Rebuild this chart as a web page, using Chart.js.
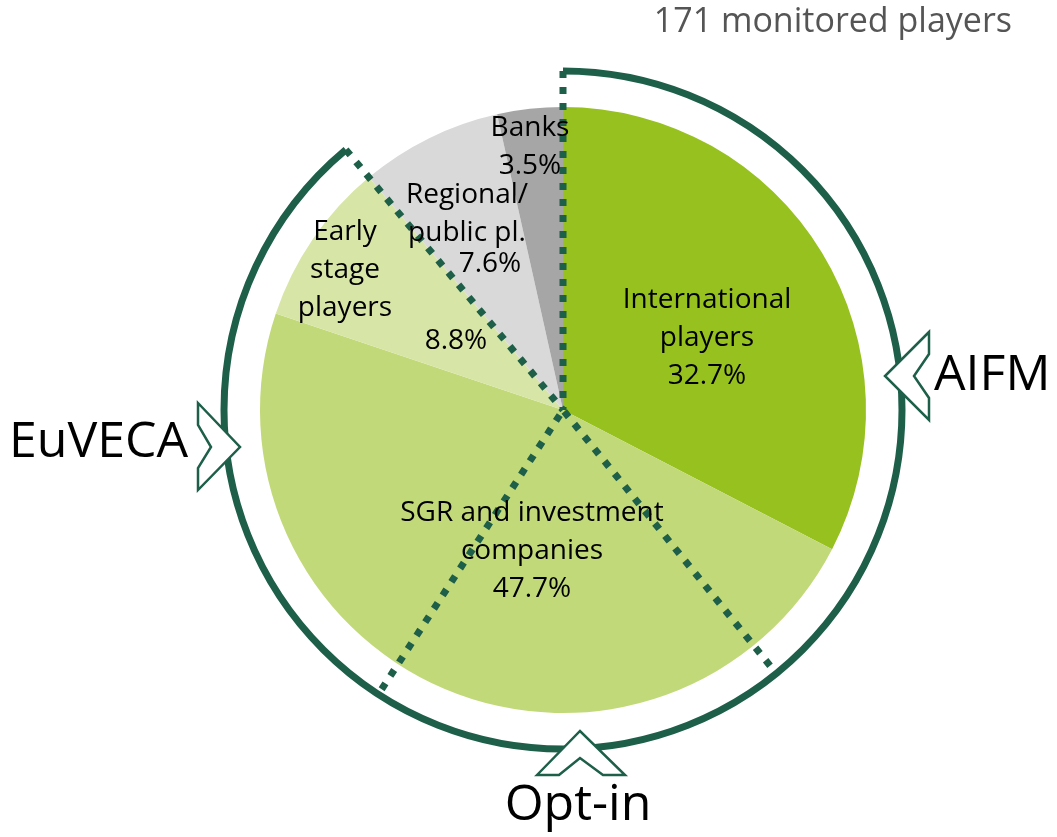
<!DOCTYPE html>
<html>
<head>
  <title>Monitored players</title>
  <script src="https://cdn.jsdelivr.net/npm/chart.js"></script>
  <style>
    body {
      margin: 0;
      background: #fff;
    }
    #wrap {
      width: 1057px;
      height: 837px;
    }
  </style>
</head>
<body>
  <div id="wrap">
    <canvas id="pieChart" width="1057" height="837"></canvas>
  </div>

  <script>
    // dati
    const categories = ['International players', 'SGR and investment companies', 'Early stage players', 'Regional/public pl.', 'Banks'];
    const shares = [32.7, 47.7, 8.8, 7.6, 3.5];
    const shareLabels = ['32.7%', '47.7%', '8.8%', '7.6%', '3.5%'];
    const sliceColors = ['#97c11f', '#c2d97a', '#d7e6a7', '#d9d9d9', '#a6a6a6'];

    const DARK_GREEN = '#1d5f48';
    const FONT = '"Open Sans", "Noto Sans", sans-serif';
    // angoli (gradi, in senso orario dall'alto) delle linee tratteggiate extra
    const optInAngles = [141, 213];

    // testo di ogni fetta: righe e posizione relativa al centro
    const sliceText = [
      { lines: ['International', 'players', shareLabels[0]], dx: 144, dy: -110 },
      { lines: ['SGR and investment', 'companies', shareLabels[1]], dx: -31, dy: 103 },
      { lines: ['Early', 'stage', 'players'], dx: -218, dy: -178 },
      { lines: [shareLabels[2]], dx: -107, dy: -69 },
      { lines: ['Regional/', 'public pl.'], dx: -96, dy: -215 },
      { lines: [shareLabels[3]], dx: -73, dy: -146 },
      { lines: ['Banks', shareLabels[4]], dx: -33, dy: -282 }
    ];

    function chevron(ctx, pts) {
      ctx.beginPath();
      pts.forEach((p, i) => i ? ctx.lineTo(p[0], p[1]) : ctx.moveTo(p[0], p[1]));
      ctx.closePath();
      ctx.fillStyle = '#fff';
      ctx.fill();
      ctx.lineWidth = 2.5;
      ctx.strokeStyle = DARK_GREEN;
      ctx.stroke();
    }

    const overlay = {
      id: 'overlay',
      afterDraw(chart) {
        const ctx = chart.ctx;
        const meta = chart.getDatasetMeta(0);
        const arc = meta.data[0];
        const cx = arc.x, cy = arc.y, r = arc.outerRadius;
        const ringR = r + 36;
        const toRad = deg => (deg - 90) * Math.PI / 180;

        // bordo tra early stage e regional
        const splitAngle = meta.data[2].endAngle;

        ctx.save();
        // anello esterno
        ctx.beginPath();
        ctx.arc(cx, cy, ringR, -Math.PI / 2, splitAngle);
        ctx.lineWidth = 7;
        ctx.strokeStyle = DARK_GREEN;
        ctx.stroke();

        // linee tratteggiate
        ctx.setLineDash([7, 9]);
        ctx.lineWidth = 7;
        const dashed = [-Math.PI / 2, splitAngle, toRad(optInAngles[0]), toRad(optInAngles[1])];
        const lens = [ringR, ringR, r + 26, r + 30];
        dashed.forEach((a, i) => {
          ctx.beginPath();
          ctx.moveTo(cx + lens[i] * Math.cos(a), cy + lens[i] * Math.sin(a));
          ctx.lineTo(cx, cy);
          ctx.stroke();
        });
        ctx.setLineDash([]);

        // frecce
        chevron(ctx, [[929, 332], [885, 376], [929, 420], [929, 398], [914, 376], [929, 354]]);
        chevron(ctx, [[198, 403], [240, 447], [198, 490], [198, 468], [211, 447], [198, 425]]);
        chevron(ctx, [[537, 775], [580, 731], [625, 775], [603, 775], [580, 758], [559, 775]]);

        // testi
        ctx.fillStyle = '#000';
        ctx.textAlign = 'center';
        ctx.textBaseline = 'middle';
        ctx.font = '28px ' + FONT;
        sliceText.forEach(t => {
          t.lines.forEach((line, i) => {
            ctx.fillText(line, cx + t.dx, cy + t.dy + i * 38);
          });
        });

        ctx.font = '50px ' + FONT;
        ctx.textAlign = 'left';
        ctx.fillText('AIFM', 934, 376);
        ctx.fillText('EuVECA', 9, 443);
        ctx.textAlign = 'center';
        ctx.fillText('Opt-in', 578, 806);

        ctx.fillStyle = '#555';
        ctx.font = '34px ' + FONT;
        ctx.textAlign = 'right';
        ctx.fillText('171 monitored players', 1012, 22);
        ctx.restore();
      }
    };

    new Chart(document.getElementById('pieChart'), {
      type: 'pie',
      data: {
        labels: categories,
        datasets: [{
          data: shares,
          backgroundColor: sliceColors,
          borderWidth: 0
        }]
      },
      options: {
        responsive: false,
        animation: false,
        layout: {
          padding: { left: 260, right: 191, top: 107, bottom: 124 }
        },
        plugins: {
          legend: { display: false },
          tooltip: { enabled: false }
        }
      },
      plugins: [overlay]
    });
  </script>
</body>
</html>
